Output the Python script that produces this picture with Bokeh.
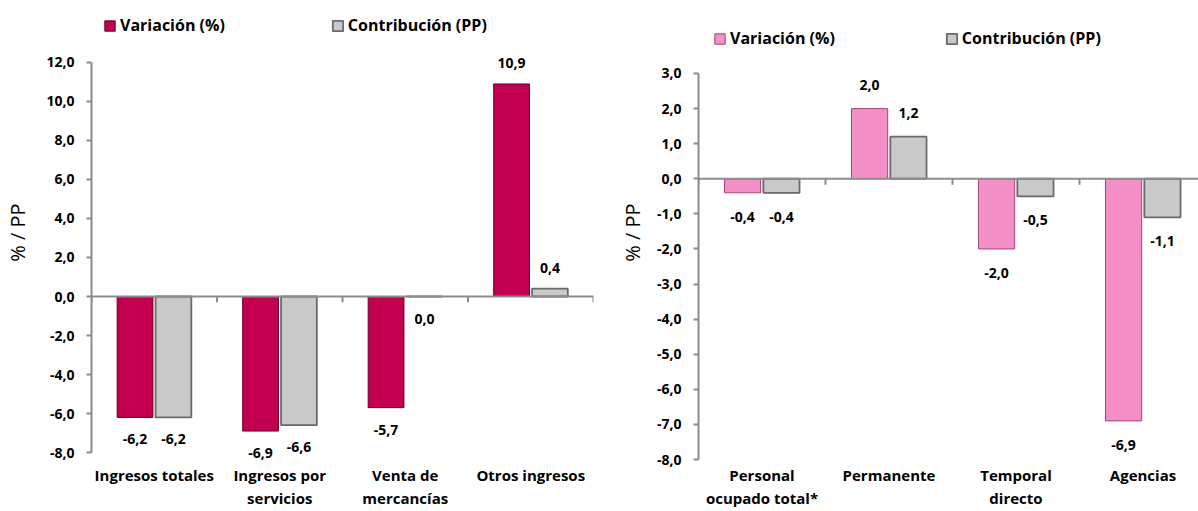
from bokeh.plotting import figure
from bokeh.models import (Range1d, FixedTicker, Legend, LegendItem,
                          ColumnDataSource, LabelSet, Span)
from bokeh.layouts import row
from bokeh.embed import file_html
from bokeh.resources import INLINE
from bokeh.core.properties import value

# ---------------- data ----------------
series_names = ["Variación (%)", "Contribución (PP)"]

left_categories = ["Ingresos totales", "Ingresos por\nservicios",
                   "Venta de\nmercancías", "Otros ingresos"]
left_variacion = [-6.2, -6.9, -5.7, 10.9]
left_contribucion = [-6.2, -6.6, 0.0, 0.4]
left_yticks = [-8, -6, -4, -2, 0, 2, 4, 6, 8, 10, 12]

right_categories = ["Personal\nocupado total*", "Permanente",
                    "Temporal\ndirecto", "Agencias"]
right_variacion = [-0.4, 2.0, -2.0, -6.9]
right_contribucion = [-0.4, 1.2, -0.5, -1.1]
right_yticks = [-8, -7, -6, -5, -4, -3, -2, -1, 0, 1, 2, 3]

FONT = "Open Sans"
AXIS_GRAY = "#8C8C8C"


def fmt(v):
    return f"{v:.1f}".replace(".", ",")


def make_panel(categories, var, con, yticks, x_end, y_lo, y_hi, var_fill,
               var_line, width, height, bl, br, bt, bb, legend_xy,
               legend_spacing, up_off, down_off, x_standoff, ylabel_standoff,
               tick_len):
    n = len(categories)
    p = figure(width=width, height=height, output_backend="svg",
               toolbar_location=None, x_range=Range1d(0, x_end),
               y_range=Range1d(y_lo, y_hi),
               min_border_left=bl, min_border_right=br,
               min_border_top=bt, min_border_bottom=bb)
    p.outline_line_color = None
    p.xgrid.visible = False
    p.ygrid.visible = False
    p.background_fill_color = "white"
    p.border_fill_color = "white"

    bw = 0.285
    off = 0.153
    centers = [i + 0.5 for i in range(n)]
    xv = [c - off for c in centers]
    xc = [c + off for c in centers]

    r1 = p.vbar(x=xv, top=var, bottom=0, width=bw, fill_color=var_fill,
                line_color=var_line, line_width=1)
    r2 = p.vbar(x=xc, top=con, bottom=0, width=bw, fill_color="#C9C9C9",
                line_color="#6A6A6A", line_width=1.8)

    # zero line with category separators
    p.add_layout(Span(location=0, dimension="width", line_color=AXIS_GRAY,
                      line_width=2))
    bounds = list(range(n + 1))
    p.segment(x0=bounds, y0=[0] * len(bounds), x1=bounds,
              y1=[-tick_len] * len(bounds), line_color=AXIS_GRAY,
              line_width=2)

    # data labels
    xs = xv + xc
    ys = list(var) + list(con)
    src = ColumnDataSource(dict(
        x=xs, y=ys, t=[fmt(v) for v in ys],
        yoff=[up_off if v > 0 else -down_off for v in ys]))
    labels = LabelSet(x="x", y="y", text="t", y_offset="yoff", source=src,
                      text_align="center", text_baseline="middle",
                      text_font=value(FONT), text_font_style="bold",
                      text_font_size="14px", text_color="black")
    p.add_layout(labels)

    # y axis
    ya = p.yaxis[0]
    ya.ticker = FixedTicker(ticks=yticks)
    ya.bounds = (min(yticks), max(yticks))
    ya.major_label_overrides = {t: fmt(t) for t in yticks}
    ya.major_label_text_font = FONT
    ya.major_label_text_font_style = "bold"
    ya.major_label_text_font_size = "14px"
    ya.major_label_text_color = "black"
    ya.major_label_standoff = 12
    ya.axis_line_color = AXIS_GRAY
    ya.axis_line_width = 2
    ya.major_tick_line_color = AXIS_GRAY
    ya.major_tick_line_width = 2
    ya.major_tick_out = 5
    ya.major_tick_in = 0
    ya.minor_tick_line_color = None
    ya.axis_label = "% / PP"
    ya.axis_label_text_font = FONT
    ya.axis_label_text_font_style = "normal"
    ya.axis_label_text_font_size = "20px"
    ya.axis_label_text_color = "black"
    ya.axis_label_standoff = ylabel_standoff

    # category labels at the bottom
    xa = p.xaxis[0]
    xa.ticker = FixedTicker(ticks=centers)
    xa.major_label_overrides = {c: lab for c, lab in zip(centers, categories)}
    xa.major_label_text_font = FONT
    xa.major_label_text_font_style = "bold"
    xa.major_label_text_font_size = "15px"
    xa.major_label_text_color = "black"
    xa.major_label_text_line_height = 1.15
    xa.major_label_standoff = x_standoff
    xa.axis_line_color = None
    xa.major_tick_line_color = None
    xa.major_tick_out = 0
    xa.major_tick_in = 0
    xa.minor_tick_line_color = None

    legend = Legend(items=[LegendItem(label=series_names[0], renderers=[r1]),
                           LegendItem(label=series_names[1], renderers=[r2])],
                    orientation="horizontal", location=legend_xy,
                    padding=0, margin=0, spacing=legend_spacing,
                    glyph_width=13, glyph_height=13, label_standoff=4,
                    label_height=16, border_line_color=None,
                    background_fill_alpha=0,
                    label_text_font=FONT, label_text_font_style="bold",
                    label_text_font_size="16px", label_text_color="black")
    p.add_layout(legend)
    return p


# left: frame spans page y 0..464 (12.0 at 62, -8.0 at 452), x 91..593
p1 = make_panel(left_categories, left_variacion, left_contribucion,
                left_yticks, 4, -8.615, 15.179, "#C2004F", "#6B0029",
                605, 511, 91, 12, 0, 47, (12, 428), 106,
                21, 22, 0, 12, 0.3)
# right: frame spans page y 0..464 (3.0 at 73, -8.0 at 459), x 698..1198
p2 = make_panel(right_categories, right_variacion, right_contribucion,
                right_yticks, 3.937, -8.142, 5.080, "#F48EC6", "#A34576",
                593, 511, 93, 0, 0, 47, (15, 415), 110,
                24, 24, 0, 8, 0.17)

layout = row(p1, p2)
open("out.html", "w").write(file_html(layout, INLINE))
